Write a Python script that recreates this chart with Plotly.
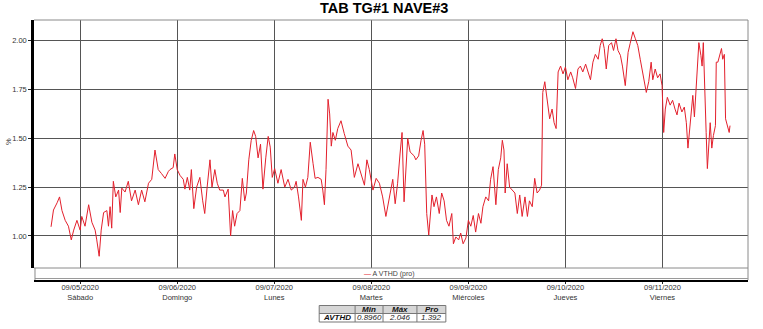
import plotly.graph_objects as go
import pandas as pd

# ---------------- data ----------------
chart_title = "TAB TG#1 NAVE#3"
series_name = "A VTHD (pro)"
y_unit = "%"

# hours after 2020-09-05 00:00
hours = [
    -7.2, -6.6, -5.7, -5.1, -4.5, -3.7, -2.9, -2.2, -1.6, -0.8,
    0.0, 0.4, 1.2, 2.1, 2.9, 3.7, 4.1, 4.7, 5.2, 5.8,
    6.6, 7.0, 7.4, 7.8, 8.2, 8.8, 9.5, 9.9, 10.3, 11.1,
    11.9, 12.7, 13.6, 14.4, 15.2, 16.0, 16.9, 17.7, 18.5, 19.3,
    20.1, 21.0, 21.8, 22.2, 23.0, 23.4, 24.0, 24.7, 25.5, 25.9,
    26.5, 27.1, 27.5, 28.1, 28.8, 29.6, 30.3, 30.8, 31.4, 32.1,
    32.6, 33.3, 33.9, 34.5, 35.4, 35.8, 36.6, 37.2, 37.7, 38.2,
    38.8, 39.5, 40.1, 40.7, 41.1, 41.7, 42.3, 42.9, 43.4, 44.0,
    44.6, 45.2, 45.9, 46.5, 47.0, 47.5, 48.1, 48.9, 49.7, 50.6,
    51.4, 52.2, 53.0, 53.4, 54.0, 54.7, 55.1, 55.7, 56.3, 56.9,
    57.6, 58.1, 58.8, 59.6, 60.0, 60.4, 60.8, 61.3, 61.7, 62.1,
    62.5, 63.1, 63.7, 64.5, 65.3, 66.2, 67.0, 67.8, 68.7, 69.5,
    70.3, 70.9, 71.5, 72.4, 73.2, 74.0, 74.8, 75.6, 76.4, 77.3,
    77.9, 78.5, 79.1, 79.6, 80.1, 81.0, 81.6, 82.6, 83.0, 83.7,
    84.3, 84.8, 85.2, 85.7, 86.2, 86.6, 87.0, 87.5, 88.1, 88.8,
    89.4, 90.0, 90.6, 91.2, 91.9, 92.3, 92.9, 93.6, 94.1, 94.7,
    95.4, 96.0, 96.6, 97.2, 97.8, 98.5, 99.1, 99.6, 100.3, 101.0,
    101.5, 102.1, 102.8, 103.4, 104.0, 104.4, 104.8, 105.1, 105.6, 106.2,
    106.9, 107.5, 108.1, 108.7, 109.3, 110.0, 110.6, 111.1, 111.8, 112.4,
    113.0, 113.6, 114.1, 114.4, 114.9, 115.5, 116.1, 116.7, 117.2, 117.7,
    118.2, 118.8, 119.4, 120.0, 120.6, 121.3, 121.8, 122.5, 123.1, 123.7,
    124.3, 125.0, 125.6, 126.2, 126.8, 127.4, 128.1, 128.6, 129.1, 129.6,
    130.1, 130.7, 131.4, 131.9, 132.5, 133.0, 133.6, 134.1, 134.8, 135.5,
    136.0, 136.7, 137.3, 137.9, 138.5, 139.3, 140.0, 140.6, 141.2, 141.6,
    142.2, 142.8, 143.4, 143.9, 144.3, 144.7, 145.2, 145.9, 146.5, 147.1,
    147.6, 148.1, 148.8, 149.4, 149.9, 150.3, 150.7, 151.1, 151.5, 151.9,
    152.3, 152.6, 153.0, 153.5, 153.8, 154.1, 154.5, 154.8, 155.1, 155.5,
    155.8, 156.2, 156.6, 157.1, 157.3, 157.7, 158.1, 158.6, 158.9, 159.3,
    159.6, 160.0, 160.5, 160.7,
]

vthd = [
    1.047, 1.133, 1.17, 1.20, 1.13, 1.08, 1.05, 0.98, 1.03, 1.08,
    1.03, 1.10, 1.05, 1.16, 1.07, 1.03, 0.98, 0.896, 1.03, 1.12,
    1.13, 1.05, 1.15, 1.04, 1.28, 1.20, 1.235, 1.12, 1.245, 1.225,
    1.28, 1.18, 1.235, 1.16, 1.235, 1.175, 1.27, 1.29, 1.44, 1.34,
    1.32, 1.295, 1.33, 1.34, 1.35, 1.42, 1.34, 1.31, 1.29, 1.24,
    1.30, 1.235, 1.34, 1.14, 1.25, 1.30, 1.18, 1.115, 1.25, 1.39,
    1.25, 1.34, 1.27, 1.235, 1.235, 1.20, 1.24, 1.00, 1.13, 1.05,
    1.115, 1.13, 1.295, 1.18, 1.22, 1.39, 1.49, 1.54, 1.51, 1.40,
    1.47, 1.24, 1.40, 1.51, 1.455, 1.30, 1.345, 1.27, 1.34, 1.25,
    1.29, 1.235, 1.25, 1.28, 1.20, 1.08, 1.29, 1.25, 1.30, 1.48,
    1.37, 1.295, 1.30, 1.29, 1.235, 1.16, 1.34, 1.70, 1.625, 1.46,
    1.53, 1.49, 1.55, 1.59, 1.525, 1.46, 1.44, 1.30, 1.37, 1.32,
    1.26, 1.39, 1.34, 1.235, 1.295, 1.27, 1.20, 1.10, 1.20, 1.29,
    1.165, 1.27, 1.42, 1.53, 1.175, 1.50, 1.43, 1.41, 1.39, 1.41,
    1.49, 1.54, 1.47, 1.115, 1.005, 1.115, 1.21, 1.15, 1.20, 1.115,
    1.22, 1.18, 1.08, 1.05, 1.115, 0.96, 0.995, 0.98, 1.015, 0.96,
    0.99, 1.08, 1.05, 1.105, 1.02, 1.115, 1.065, 1.15, 1.20, 1.18,
    1.29, 1.355, 1.16, 1.34, 1.40, 1.49, 1.44, 1.22, 1.37, 1.25,
    1.235, 1.22, 1.115, 1.21, 1.10, 1.20, 1.10, 1.18, 1.15, 1.295,
    1.22, 1.235, 1.26, 1.735, 1.79, 1.685, 1.60, 1.65, 1.58, 1.55,
    1.84, 1.87, 1.83, 1.865, 1.80, 1.84, 1.81, 1.755, 1.855, 1.87,
    1.84, 1.88, 1.84, 1.80, 1.89, 1.93, 1.905, 1.975, 2.01, 1.96,
    1.855, 1.975, 1.99, 1.95, 2.01, 1.95, 1.925, 1.87, 1.77, 1.94,
    1.985, 2.046, 2.01, 1.975, 1.905, 1.82, 1.735, 1.79, 1.89, 1.80,
    1.855, 1.81, 1.83, 1.77, 1.53, 1.65, 1.71, 1.67, 1.695, 1.65,
    1.62, 1.68, 1.635, 1.66, 1.58, 1.45, 1.53, 1.635, 1.72, 1.61,
    1.735, 1.87, 1.99, 1.925, 1.87, 1.99, 1.67, 1.53, 1.345, 1.50,
    1.58, 1.45, 1.515, 1.565, 1.89, 1.89, 1.925, 1.96, 1.905, 1.93,
    1.60, 1.565, 1.53, 1.565,
]

day_dates = ["2020-09-05", "2020-09-06", "2020-09-07", "2020-09-08",
             "2020-09-09", "2020-09-10", "2020-09-11"]
day_labels = ["09/05/2020", "09/06/2020", "09/07/2020", "09/08/2020",
              "09/09/2020", "09/10/2020", "09/11/2020"]
day_names = ["Sábado", "Domingo", "Lunes", "Martes",
             "Miércoles", "Jueves", "Viernes"]
y_ticks = [1.00, 1.25, 1.50, 1.75, 2.00]

stat_row_name = "AVTHD"
stat_headers = ["Min", "Máx", "Pro"]
stat_values = ["0.8960", "2.046", "1.392"]

# ---------------- figure ----------------
W, H = 763, 329
PL, PR, PT, PB = 32, 748, 20, 281      # plot box in pixels (x axis line at PB)
GRID_BOTTOM = 268                       # bottom of gridded area


def px(x):
    return (x - PL) / (PR - PL)


def py(y):
    return (PB - y) / (PB - PT)


base = pd.Timestamp("2020-09-05 00:00")
times = base + pd.to_timedelta(hours, unit="h")

FONT = "Liberation Sans, Arial, sans-serif"
RED = "#e3202c"
GRID = "#555555"

fig = go.Figure()
fig.add_trace(go.Scatter(x=times, y=vthd, mode="lines", name=series_name,
                         line=dict(color=RED, width=1), showlegend=False))

fig.update_layout(
    width=W, height=H, autosize=False,
    margin=dict(l=PL, r=W - PR, t=PT, b=H - PB, pad=0),
    paper_bgcolor="white", plot_bgcolor="white",
    font=dict(family=FONT, size=8, color="#333"),
    xaxis=dict(
        type="date",
        range=[pd.Timestamp("2020-09-04 12:35"), pd.Timestamp("2020-09-11 21:09")],
        anchor="free", position=0,
        tickvals=day_dates,
        ticktext=[f"{d}<br>{n}" for d, n in zip(day_labels, day_names)],
        tickfont=dict(size=7.5, color="#333"),
        ticks="outside", ticklen=2, tickcolor="#222", tickwidth=1,
        ticklabelstandoff=-3,
        showline=True, linecolor="black", linewidth=2,
        showgrid=True, gridcolor=GRID, gridwidth=1,
        zeroline=False, fixedrange=True,
    ),
    yaxis=dict(
        domain=[py(GRID_BOTTOM), 1],
        range=[0.836, 2.106],
        tickvals=y_ticks, tickformat=".2f",
        tickfont=dict(size=7.5, color="#333"),
        ticks="outside", ticklen=3, tickcolor="#222",
        showline=True, linecolor="black", linewidth=2.5,
        showgrid=True, gridcolor=GRID, gridwidth=1,
        zeroline=False, fixedrange=True,
    ),
)

shapes = []
gray = dict(color="#8a8a8a", width=1)
# frame lines
shapes.append(dict(type="line", xref="paper", yref="paper", x0=0, x1=1, y0=1, y1=1, line=gray))
shapes.append(dict(type="line", xref="paper", yref="paper", x0=1, x1=1, y0=py(280), y1=1, line=gray))
shapes.append(dict(type="line", xref="paper", yref="paper", x0=0, x1=1,
                   y0=py(GRID_BOTTOM), y1=py(GRID_BOTTOM), line=gray))
shapes.append(dict(type="line", xref="paper", yref="paper", x0=px(33), x1=1,
                   y0=py(278.5), y1=py(278.5), line=dict(color="#9a9a9a", width=1)))
shapes.append(dict(type="line", xref="paper", yref="paper", x0=px(33), x1=px(33),
                   y0=py(280), y1=py(GRID_BOTTOM), line=gray))

# statistics table
col_edges = [318, 354, 382, 416, 445]
row_edges = [305.5, 313.5, 322]
shapes.append(dict(type="rect", xref="paper", yref="paper",
                   x0=px(col_edges[0]), x1=px(col_edges[-1]),
                   y0=py(row_edges[1]), y1=py(row_edges[0]),
                   fillcolor="#d6d6d6", line=dict(width=0), layer="below"))
for xe in col_edges:
    shapes.append(dict(type="line", xref="paper", yref="paper", x0=px(xe), x1=px(xe),
                       y0=py(row_edges[-1]), y1=py(row_edges[0]),
                       line=dict(color="#777", width=1)))
for ye in row_edges:
    shapes.append(dict(type="line", xref="paper", yref="paper",
                       x0=px(col_edges[0]), x1=px(col_edges[-1]),
                       y0=py(ye), y1=py(ye), line=dict(color="#777", width=1)))

annotations = []
# title
annotations.append(dict(text=f"<b>{chart_title}</b>", xref="paper", yref="paper",
                        x=px(383), y=py(8), xanchor="center", yanchor="middle",
                        showarrow=False, font=dict(family=FONT, size=14.5, color="black")))
# y unit
annotations.append(dict(text=y_unit, xref="paper", yref="paper", x=px(6), y=py(142),
                        xanchor="center", yanchor="middle", textangle=-90,
                        showarrow=False, font=dict(family=FONT, size=7.5, color="#333")))
# legend
annotations.append(dict(text=f"<span style='color:{RED}'>—</span> {series_name}",
                        xref="paper", yref="paper", x=px(388), y=py(273.5),
                        xanchor="center", yanchor="middle", showarrow=False,
                        font=dict(family=FONT, size=7, color="#444")))
# table text
for i, h in enumerate(stat_headers):
    annotations.append(dict(text=f"<b><i>{h}</i></b>", xref="paper", yref="paper",
                            x=px((col_edges[i + 1] + col_edges[i + 2]) / 2),
                            y=py((row_edges[0] + row_edges[1]) / 2),
                            xanchor="center", yanchor="middle", showarrow=False,
                            font=dict(family=FONT, size=8, color="#111")))
annotations.append(dict(text=f"<b><i>{stat_row_name}</i></b>", xref="paper", yref="paper",
                        x=px((col_edges[0] + col_edges[1]) / 2),
                        y=py((row_edges[1] + row_edges[2]) / 2),
                        xanchor="center", yanchor="middle", showarrow=False,
                        font=dict(family=FONT, size=8, color="#111")))
for i, v in enumerate(stat_values):
    annotations.append(dict(text=f"<i>{v}</i>", xref="paper", yref="paper",
                            x=px((col_edges[i + 1] + col_edges[i + 2]) / 2),
                            y=py((row_edges[1] + row_edges[2]) / 2),
                            xanchor="center", yanchor="middle", showarrow=False,
                            font=dict(family=FONT, size=8, color="#222")))

fig.update_layout(shapes=shapes, annotations=annotations)
fig.write_html("out.html")
